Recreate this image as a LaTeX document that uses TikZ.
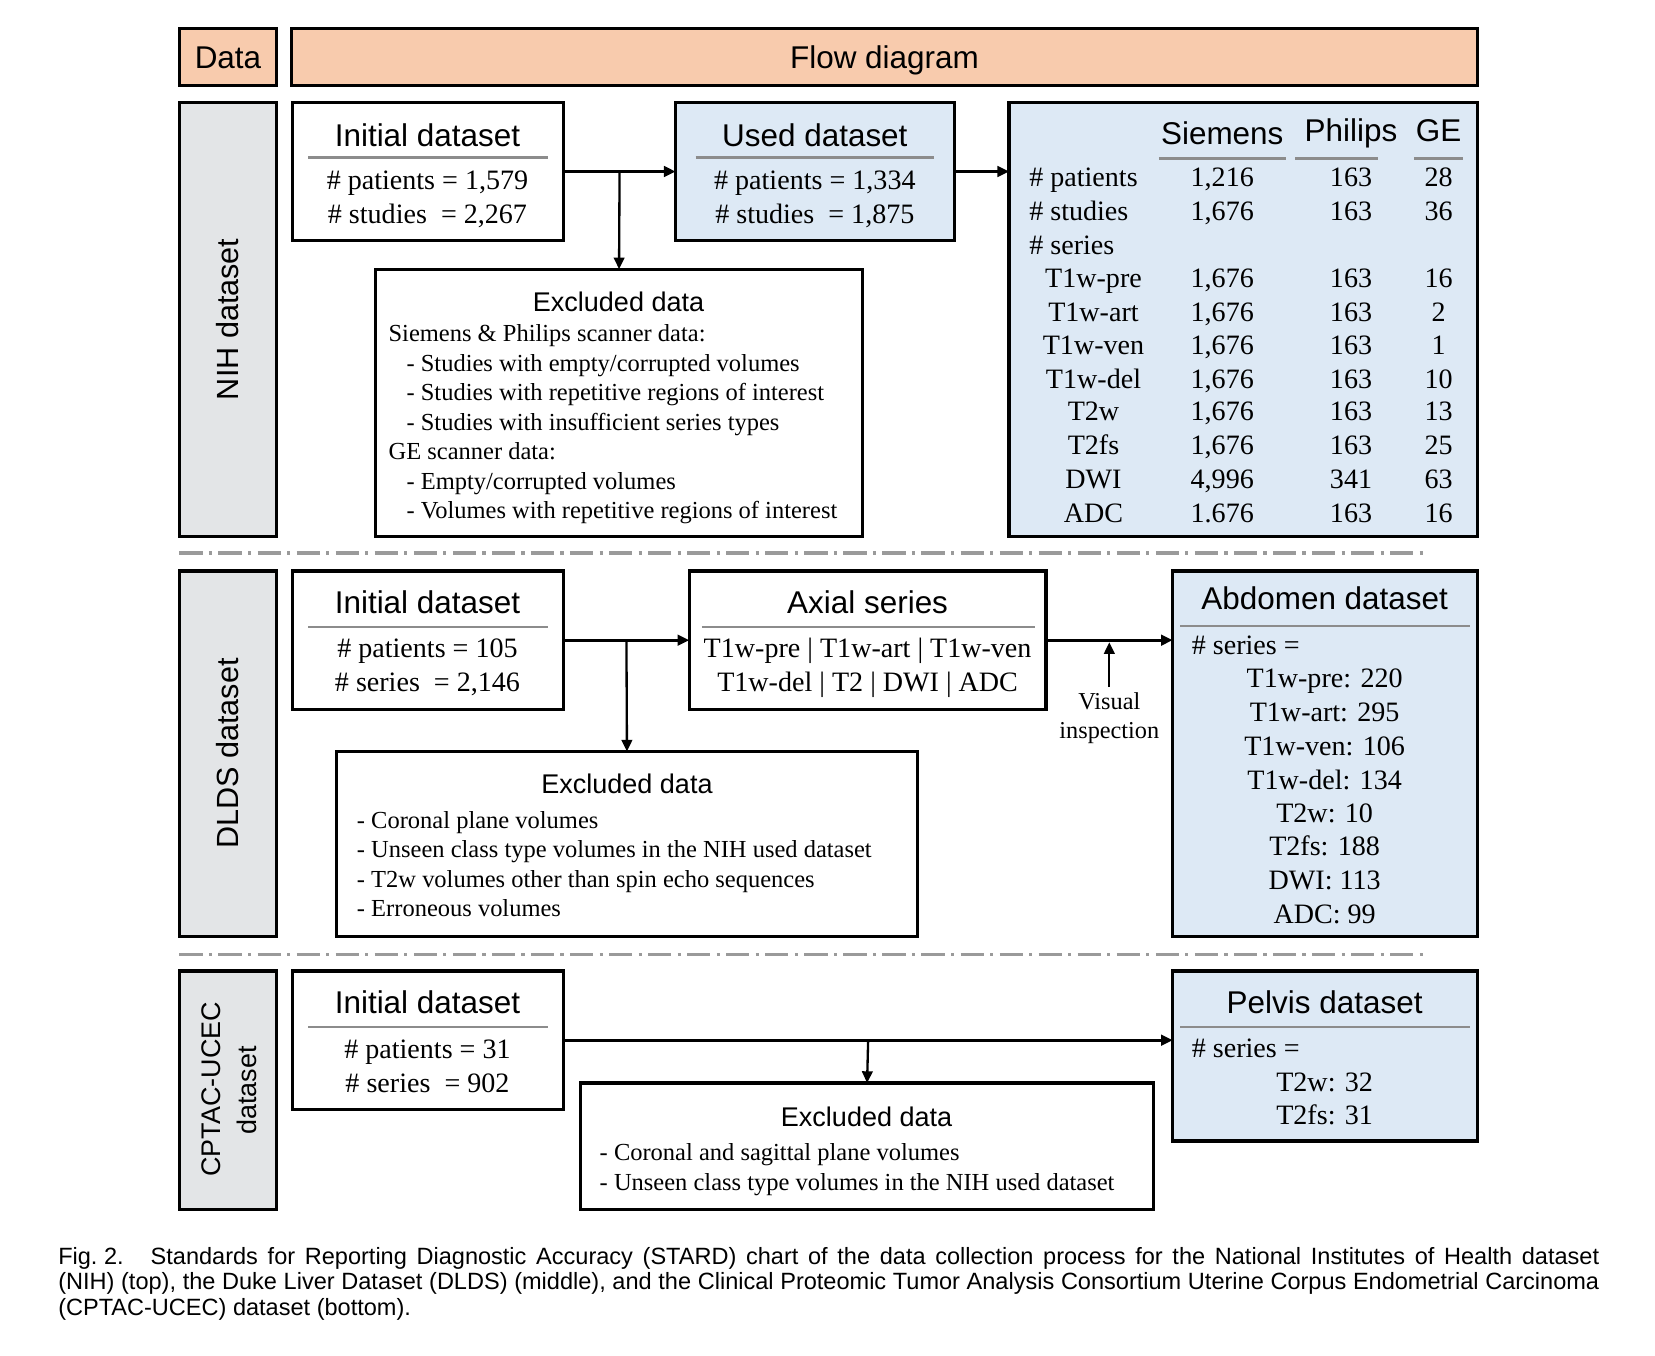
\documentclass[tikz,border=0pt]{standalone}
\usepackage{fontspec}
\setmainfont{Liberation Serif}
\newfontfamily\hsf{Liberation Sans}
\usetikzlibrary{arrows.meta,calc}
\definecolor{peach}{HTML}{F8CBAD}
\definecolor{lgray}{HTML}{E3E5E7}
\definecolor{lblue}{HTML}{DDE9F5}
\definecolor{ulgray}{HTML}{8C8C8C}
\definecolor{dgray}{HTML}{9A9A9A}
\begin{document}
\begin{tikzpicture}[x=1pt,y=-1pt,
  box/.style={draw=black,line width=3pt,anchor=north west,inner sep=0pt,outer sep=0pt},
  hd/.style={font=\hsf\fontsize{29.8}{34}\selectfont,inner sep=0pt,text height=21pt,text depth=0pt},
  exh/.style={font=\hsf\fontsize{25.6}{30}\selectfont,inner sep=0pt,text height=18.3pt,text depth=0pt},
  vl/.style={font=\hsf\fontsize{29}{34}\selectfont,inner sep=0pt,text height=20.8pt,text depth=0pt,rotate=90},
  vls/.style={font=\hsf\fontsize{25.5}{30}\selectfont,inner sep=0pt,text height=18.3pt,text depth=0pt,rotate=90},
  tx/.style={font=\fontsize{26.6}{32}\selectfont,inner sep=0pt,text height=17.6pt,text depth=0pt},
  sx/.style={font=\fontsize{23.2}{28}\selectfont,inner sep=0pt,text height=15.4pt,text depth=0pt,anchor=west},
  vx/.style={font=\fontsize{23}{27}\selectfont,inner sep=0pt,text height=15.2pt,text depth=0pt},
  ul/.style={draw=ulgray,line width=2.5pt},
  arr/.style={-{Triangle[length=11pt,width=10pt]},line width=2.6pt},
  arrv/.style={-{Triangle[length=11pt,width=10pt]},line width=2.2pt},
  sepline/.style={draw=dgray,line width=3pt,dash pattern=on 22pt off 6pt on 3pt off 6pt},
  captxt/.style={font=\hsf\fontsize{22.3}{24}\selectfont,inner sep=0pt,text height=16pt,text depth=0pt,anchor=west}]
\useasboundingbox (0,0) rectangle (1568,1284);

% ---------- header row ----------
\node[box,fill=peach,minimum width=92pt,minimum height=54pt] (data) at (170,27) {};
\node[hd] (datat) at (data.center) {Data};
\node[box,fill=peach,minimum width=1124pt,minimum height=54pt] (flow) at (276,27) {};
\node[hd] (flowt) at (flow.center) {Flow diagram};

% ---------- NIH ----------
\node[box,fill=lgray,minimum width=92pt,minimum height=411pt] (lnih) at (170,97) {};
\node[vl] (lniht) at (lnih.center) {NIH dataset};

\node[box,fill=white,minimum width=257pt,minimum height=131pt] (ni) at (277,97) {};
\node[hd] (nih1) at (405,128) {Initial dataset};
\draw[ul] (292,149) -- (519,149);
\node[tx] (nit1) at (405,171) {\# patients = 1,579};
\node[tx] (nit2) at (405,203) {\# studies \ = 2,267};

\node[box,fill=lblue,minimum width=264pt,minimum height=131pt] (nu) at (640,97) {};
\node[hd] (nuh) at (772,128) {Used dataset};
\draw[ul] (659,149) -- (885,149);
\node[tx] (nut1) at (772,171) {\# patients = 1,334};
\node[tx] (nut2) at (772,203) {\# studies \ = 1,875};

\node[box,fill=lblue,minimum width=444pt,minimum height=411pt] (nt) at (956,97) {};
\node[hd] (th1) at (1158,126) {Siemens};
\node[hd] (th2) at (1280,124) {Philips};
\node[hd] (th3) at (1363,124) {GE};
\draw[ul] (1098,150) -- (1218,150);
\draw[ul] (1227,150) -- (1306,150);
\draw[ul] (1340,150) -- (1386,150);
\node[tx,anchor=west] (tl1) at (975,168) {\# patients};
\node[tx,anchor=west] (tl2) at (975,200) {\# studies};
\node[tx,anchor=west] (tl3) at (975,232) {\# series};
\foreach \y/\l [count=\i] in {264/T1w-pre,296/T1w-art,327/T1w-ven,359/T1w-del,390/T2w,422/T2fs,454/DWI,486/ADC}
  \node[tx] (tr\i) at (1036,\y) {\l};
\foreach \y/\s/\p/\g [count=\i] in {168/{1,216}/163/28,200/{1,676}/163/36,264/{1,676}/163/16,296/{1,676}/163/2,327/{1,676}/163/1,359/{1,676}/163/10,390/{1,676}/163/13,422/{1,676}/163/25,454/{4,996}/341/63,486/{1.676}/163/16}{
  \node[tx] (ts\i) at (1158,\y) {\s};
  \node[tx] (tp\i) at (1280,\y) {\p};
  \node[tx] (tg\i) at (1363,\y) {\g};
}

\node[box,fill=white,minimum width=461pt,minimum height=253pt] (ne) at (356,255) {};
\node[exh] (neh) at (586,286) {Excluded data};
\node[sx] (ne1) at (368,316) {Siemens \& Philips scanner data:};
\node[sx] (ne2) at (385,344) {- Studies with empty/corrupted volumes};
\node[sx] (ne3) at (385,372) {- Studies with repetitive regions of interest};
\node[sx] (ne4) at (385,400) {- Studies with insufficient series types};
\node[sx] (ne5) at (368,428) {GE scanner data:};
\node[sx] (ne6) at (385,456) {- Empty/corrupted volumes};
\node[sx] (ne7) at (385,484) {- Volumes with repetitive regions of interest};

\draw[arr] (ni.east) -- (nu.west);
\draw[arrv] ($(ni.east)!0.5!(nu.west)$) -- (ne.north);
\draw[arr] (nu.east) -- (nu.east -| nt.west);

\draw[sepline] (170,524) -- (1348,524);

% ---------- DLDS ----------
\node[box,fill=lgray,minimum width=92pt,minimum height=346pt] (ldl) at (170,541) {};
\node[vl] (ldlt) at (ldl.center) {DLDS dataset};

\node[box,fill=white,minimum width=257pt,minimum height=131pt] (di) at (277,541) {};
\node[hd] (dih) at (405,571) {Initial dataset};
\draw[ul] (292,594) -- (519,594);
\node[tx] (dit1) at (405,614) {\# patients = 105};
\node[tx] (dit2) at (405,646) {\# series \ = 2,146};

\node[box,fill=white,minimum width=338pt,minimum height=131pt] (da) at (653,541) {};
\node[hd] (dah) at (822,571) {Axial series};
\draw[ul] (665,594) -- (981,594);
\node[tx] (dat1) at (822,614) {T1w-pre | T1w-art | T1w-ven};
\node[tx] (dat2) at (822,646) {T1w-del | T2 | DWI | ADC};

\node[box,fill=lblue,minimum width=289pt,minimum height=346pt] (dab) at (1111,541) {};
\node[hd] (dabh) at (1255,567) {Abdomen dataset};
\draw[ul] (1118,593) -- (1393,593);
\node[tx,anchor=west] (dab0) at (1129,611) {\# series =};
\foreach \y/\l [count=\i] in {643/{T1w-pre: 220},675/{T1w-art: 295},707/{T1w-ven: 106},739/{T1w-del: 134},770/{T2w: 10},802/{T2fs: 188},834/{DWI: 113},866/{ADC: 99}}
  \node[tx] (dab\i) at (1255,\y) {\l};

\node[box,fill=white,minimum width=550pt,minimum height=175pt] (de) at (319,712) {};
\node[exh] (deh) at (594,743) {Excluded data};
\node[sx] (de1) at (338,777) {- Coronal plane volumes};
\node[sx] (de2) at (338,805) {- Unseen class type volumes in the NIH used dataset};
\node[sx] (de3) at (338,833) {- T2w volumes other than spin echo sequences};
\node[sx] (de4) at (338,861) {- Erroneous volumes};

\node[vx] (vis1) at (1051,665) {Visual};
\node[vx] (vis2) at (1051,692) {inspection};
\coordinate (visb) at (1051,651);

\draw[arr] (di.east) -- (da.west);
\draw[arrv] ($(di.east)!0.5!(da.west)$) -- (de.north);
\draw[arr] (da.east) -- (da.east -| dab.west);
\draw[arrv,shorten >=2pt] (visb) -- (visb |- da.east);

\draw[sepline] (170,904) -- (1348,904);

% ---------- CPTAC-UCEC ----------
\node[box,fill=lgray,minimum width=92pt,minimum height=226pt] (lcp) at (170,920) {};
\node[vls] (lcpt1) at (200,1032) {CPTAC-UCEC};
\node[vls] (lcpt2) at (234,1033) {dataset};

\node[box,fill=white,minimum width=257pt,minimum height=131pt] (ci) at (277,920) {};
\node[hd] (cih) at (405,950) {Initial dataset};
\draw[ul] (292,973) -- (519,973);
\node[tx] (cit1) at (405,994) {\# patients = 31};
\node[tx] (cit2) at (405,1026) {\# series \ = 902};

\node[box,fill=lblue,minimum width=289pt,minimum height=161pt] (cp) at (1111,920) {};
\node[hd] (cph) at (1255,950) {Pelvis dataset};
\draw[ul] (1118,973) -- (1393,973);
\node[tx,anchor=west] (cp0) at (1129,993) {\# series =};
\node[tx] (cp1) at (1255,1025) {T2w: 32};
\node[tx] (cp2) at (1255,1057) {T2fs: 31};

\node[box,fill=white,minimum width=543pt,minimum height=120pt] (ce) at (550,1026) {};
\node[exh] (ceh) at (821,1058) {Excluded data};
\node[sx] (ce1) at (568,1092) {- Coronal and sagittal plane volumes};
\node[sx] (ce2) at (568,1120) {- Unseen class type volumes in the NIH used dataset};

\draw[arr] (ci.east) -- (ci.east -| cp.west);
\draw[arrv] ($(ci.east)!0.5!(ci.east -| cp.west)$) -- (ce.north);

% ---------- caption ----------
\node[captxt] (cap1) at (55,1190) {\makebox[1460pt][s]{\mbox{Fig.\ 2.}\hspace{1.15em}Standards for Reporting Diagnostic Accuracy (STARD) chart of the data collection process for the National Institutes of Health dataset}};
\node[captxt] (cap2) at (55,1214) {\makebox[1460pt][s]{(NIH) (top), the Duke Liver Dataset (DLDS) (middle), and the Clinical Proteomic Tumor Analysis Consortium Uterine Corpus Endometrial Carcinoma}};
\node[captxt] (cap3) at (55,1238) {(CPTAC-UCEC) dataset (bottom).};
\end{tikzpicture}
\end{document}
